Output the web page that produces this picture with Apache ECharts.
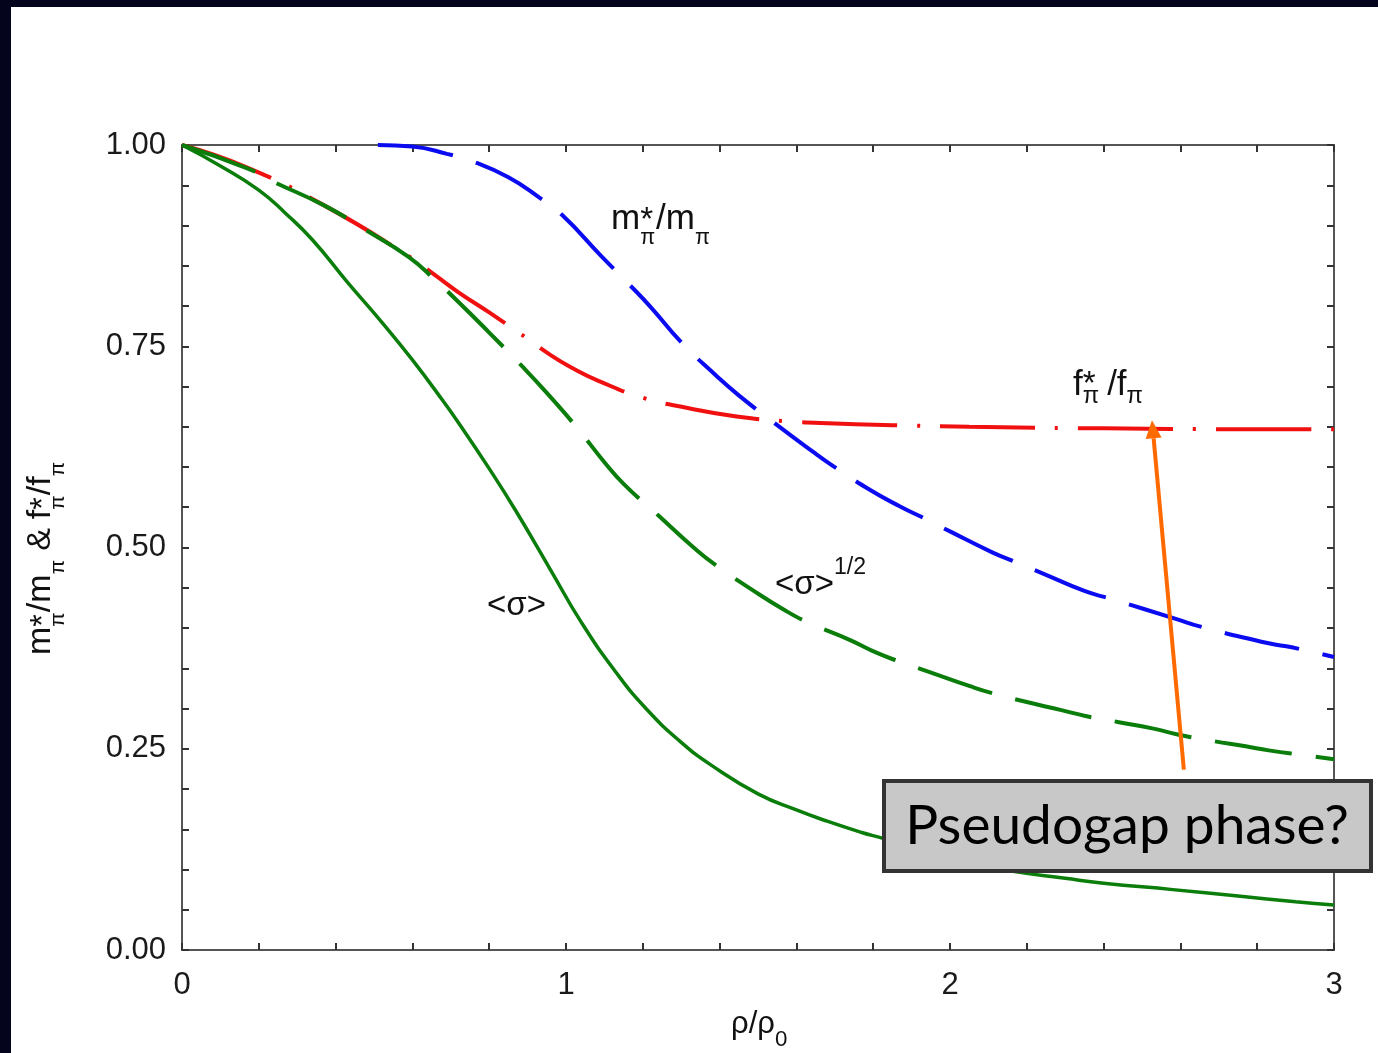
<!DOCTYPE html>
<html><head><meta charset="utf-8">
<script src="https://cdn.jsdelivr.net/npm/echarts@6/dist/echarts.min.js"></script>
<style>html,body{margin:0;padding:0;background:#fff}#c{width:1378px;height:1053px}</style>
</head><body><div id="c"></div>
<script>
// ---- data ----
const mpiX = [0.51,0.60,0.69,0.76,0.85,0.93,0.99,1.09,1.16,1.22,1.30,1.39,1.45,1.55,1.64,1.69,1.79,1.87,1.93,2.00,2.11,2.17,2.25,2.35,2.42,2.59,2.65,2.83,2.89,3.00];
const mpiY = [1.000,0.998,0.989,0.979,0.960,0.935,0.913,0.863,0.829,0.799,0.755,0.714,0.689,0.652,0.620,0.603,0.572,0.551,0.537,0.520,0.494,0.482,0.466,0.446,0.436,0.411,0.402,0.381,0.376,0.364];

const fpiX = [0,0.17,0.37,0.59,0.66,0.72,0.80,0.88,0.96,1.02,1.08,1.20,1.32,1.44,1.57,1.70,1.85,2.05,2.40,2.75,3.00];
const fpiY = [1.000,0.972,0.925,0.862,0.838,0.817,0.792,0.766,0.739,0.722,0.708,0.686,0.673,0.663,0.657,0.654,0.652,0.650,0.648,0.647,0.647];

const sqrtX = [0,0.17,0.24,0.37,0.48,0.59,0.66,0.72,0.80,0.89,0.95,1.03,1.10,1.15,1.24,1.33,1.39,1.48,1.57,1.63,1.74,1.81,1.87,1.96,2.05,2.11,2.20,2.29,2.35,2.44,2.53,2.59,2.68,2.77,2.83,2.92,3.00];
const sqrtY = [1.000,0.971,0.954,0.925,0.894,0.861,0.832,0.805,0.767,0.723,0.692,0.648,0.606,0.579,0.540,0.501,0.478,0.449,0.422,0.407,0.385,0.369,0.358,0.343,0.328,0.319,0.308,0.298,0.291,0.283,0.275,0.268,0.260,0.253,0.248,0.242,0.237];

const sigX = [0,0.10,0.20,0.27,0.34,0.43,0.52,0.60,0.68,0.72,0.80,0.87,0.96,1.04,1.13,1.21,1.30,1.38,1.50,1.60,1.68,1.77,1.83,1.95,2.05,2.16,2.30,2.40,2.58,2.75,2.90,3.00];
const sigY = [1.000,0.974,0.944,0.915,0.882,0.830,0.780,0.733,0.682,0.655,0.598,0.545,0.472,0.407,0.345,0.299,0.258,0.229,0.194,0.174,0.160,0.146,0.138,0.119,0.108,0.098,0.089,0.083,0.075,0.067,0.060,0.056];

const xTickLabels = ['0','1','2','3'];
const yTickLabels = ['0.00','0.25','0.50','0.75','1.00'];

// arrow annotation (data coords): tail -> head
const arrowTail = [2.609, 0.224];
const arrowHead = [2.526, 0.658];

const zip = (a,b)=>a.map((v,i)=>[v,b[i]]);
const FAM = 'Liberation Sans, Arial, sans-serif';
const AXC = '#555';

const chart = echarts.init(document.getElementById('c'), null, {renderer:'canvas'});

function xFmt(v){ const r=Math.round(v); return Math.abs(v-r)<1e-6 && xTickLabels[r]!==undefined ? xTickLabels[r] : ''; }
function yFmt(v){ const q=Math.round(v*4); return Math.abs(v*4-q)<1e-6 && yTickLabels[q]!==undefined ? yTickLabels[q] : ''; }

const axBase = (pos, showLabel, isX)=>({
  type:'value', position:pos, min:0, max: isX?3:1, interval: isX?0.2:0.05,
  axisLine:{show:true, onZero:false, lineStyle:{color:AXC, width:2}},
  axisTick:{show:true, inside:true, length:7, lineStyle:{color:'#333', width:2}},
  axisLabel:{show:showLabel, formatter: isX?xFmt:yFmt, fontSize:31, fontFamily:FAM, color:'#1a1a1a', margin: isX?20:16},
  splitLine:{show:false}, minorTick:{show:false}
});

const option = {
  animation:false,
  backgroundColor:'#ffffff',
  grid:{left:182, right:44, top:145, bottom:103, containLabel:false, outerBoundsMode:'none'},
  xAxis:[axBase('bottom',true,true), axBase('top',false,true)],
  yAxis:[axBase('left',true,false), axBase('right',false,false)],
  series:[
    {name:'mpi', type:'line', data:zip(mpiX,mpiY), symbol:'none', smooth:0.5,
     lineStyle:{color:'#0b0bf2', width:4, type:[76,24]}, z:2},
    {name:'fpi', type:'line', data:zip(fpiX,fpiY), symbol:'none', smooth:0.5,
     lineStyle:{color:'#f01010', width:4, type:[95,20,3,20]}, z:3},
    {name:'sqrt', type:'line', data:zip(sqrtX,sqrtY), symbol:'none', smooth:0.5,
     lineStyle:{color:'#0a7d0a', width:4, type:[78,24]}, z:4},
    {name:'sigma', type:'line', data:zip(sigX,sigY), symbol:'none', smooth:0.5,
     lineStyle:{color:'#0a7d0a', width:3.5, type:'solid'}, z:5}
  ]
};
chart.setOption(option);

// ---- text composition helper (sub/superscripts) ----
const mctx = document.createElement('canvas').getContext('2d');
function tw(t,size){ mctx.font = size+'px '+FAM; return mctx.measureText(t).width; }
function compose(tokens, base, cfg){
  const els=[]; let x=0;
  const put=(t,size,dy)=>{ els.push({type:'text', x:x, y:dy-0.35*size, z:50,
      style:{text:t, fontSize:size, fontFamily:FAM, fill:'#111', align:'left', verticalAlign:'middle'}}); };
  for(const tk of tokens){
    if(tk[0]==='n'){ put(tk[1],base,0); x+=tw(tk[1],base); }
    else if(tk[0]==='sp'){ x+=tk[1]; }
    else if(tk[0]==='sub'){ const s=base*cfg.small; put(tk[1],s,base*cfg.sub); x+=tw(tk[1],s); }
    else if(tk[0]==='sup'){ const s=base*(cfg.supSmall||cfg.small); put(tk[1],s,base*cfg.sup); x+=tw(tk[1],s); }
    else if(tk[0]==='ss'){ const s=base*cfg.small, s1=base*(cfg.star||cfg.small); const x0=x;
      put(tk[1],s1,base*(cfg.starDy!==undefined?cfg.starDy:cfg.sup)); const w1=tw(tk[1],s1);
      put(tk[2],s,base*cfg.sub); const w2=tw(tk[2],s);
      x=x0+Math.max(w1,w2); }
  }
  return els;
}

const graphics = [];
// dark frame bands
graphics.push({type:'rect', shape:{x:0,y:0,width:1378,height:7}, style:{fill:'#04041c'}, z:200});
graphics.push({type:'rect', shape:{x:0,y:0,width:11,height:1053}, style:{fill:'#04041c'}, z:200});

// curve labels
graphics.push({type:'group', x:611, y:232, children:compose(
  [['n','m'],['ss','*','π'],['sp',1],['n','/m'],['sub','π']], 35, {small:0.62, star:0.95, starDy:0.02, sub:0.4})});
graphics.push({type:'group', x:1073, y:398, children:compose(
  [['n','f'],['ss','*','π'],['sp',8],['n','/f'],['sub','π']], 35, {small:0.68, star:0.95, starDy:-0.05, sub:0.2})});
graphics.push({type:'group', x:775, y:596, children:compose(
  [['n','<σ>'],['sup','1/2']], 33, {small:0.7, sup:-0.6, sub:0.3})});
graphics.push({type:'group', x:487, y:617, children:compose(
  [['n','<σ>']], 33, {small:0.7, sup:-0.6, sub:0.3})});
// axis names
graphics.push({type:'group', x:731, y:1035, children:compose(
  [['n','ρ/ρ'],['sub','0']], 31, {small:0.72, sup:-0.5, sub:0.42})});
graphics.push({type:'group', x:53, y:655, rotation:Math.PI/2, children:compose(
  [['n','m'],['ss','*','π'],['n','/m'],['sub','π'],['sp',9],['n','&'],['sp',9],['n','f'],['ss','*','π'],['n','/f'],['sub','π']],
  34, {small:0.62, star:0.95, starDy:0.08, sub:0.38})});

// arrow
const pT = chart.convertToPixel({gridIndex:0}, arrowTail);
const pH = chart.convertToPixel({gridIndex:0}, arrowHead);
const dx=pH[0]-pT[0], dy=pH[1]-pT[1], L=Math.hypot(dx,dy), ux=dx/L, uy=dy/L;
const hl=18, hw=8;
const bx=pH[0]-ux*hl, by=pH[1]-uy*hl;
graphics.push({type:'line', shape:{x1:pT[0],y1:pT[1],x2:bx,y2:by}, style:{stroke:'#ff6a00', lineWidth:4}, z:60});
graphics.push({type:'polygon', shape:{points:[[pH[0],pH[1]],[bx-uy*hw,by+ux*hw],[bx+uy*hw,by-ux*hw]]}, style:{fill:'#ff6a00'}, z:60});

// annotation box
const boxFam = '"Comic Sans MS", Lato, sans-serif';
mctx.font = '50px '+boxFam;
const boxSize = Math.round(50*440/mctx.measureText('Pseudogap phase?').width);
graphics.push({type:'rect', shape:{x:884,y:781,width:487,height:90}, style:{fill:'#c8c8c8', stroke:'#333', lineWidth:4}, z:100});
graphics.push({type:'text', x:1127, y:826, z:101, style:{text:'Pseudogap phase?', fontSize:boxSize, fontFamily:boxFam, fill:'#000', align:'center', verticalAlign:'middle'}});

chart.setOption({graphic:graphics});
</script></body></html>
